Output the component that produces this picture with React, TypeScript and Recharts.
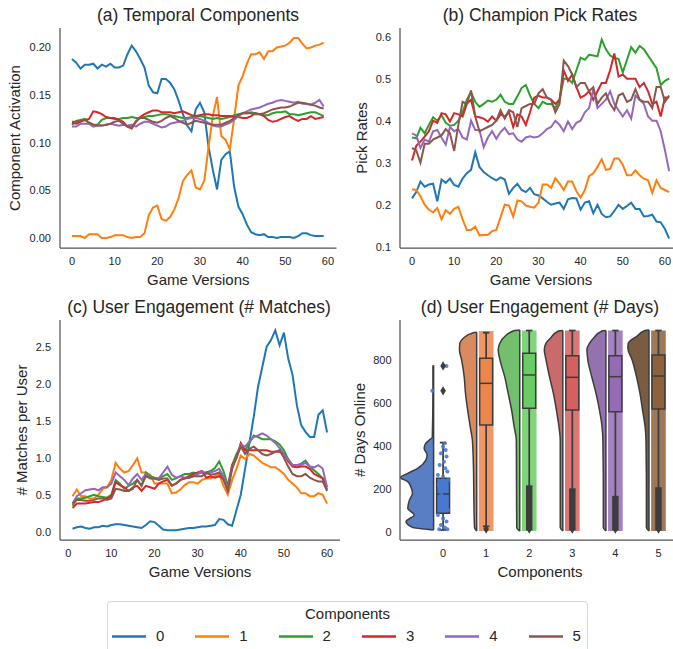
import React from 'react';
import {
  LineChart,
  Line,
  XAxis,
  YAxis,
  Label,
  ComposedChart,
  Area,
  Scatter,
  ReferenceArea,
  ReferenceLine,
} from 'recharts';

// ---- data -------------------------------------------------------------

const components = ['0', '1', '2', '3', '4', '5'];

// (a) temporal components, versions 0..59
const temporal0 = [0.188, 0.184, 0.178, 0.182, 0.182, 0.183, 0.178, 0.182, 0.18, 0.183, 0.179, 0.179, 0.181, 0.193, 0.202, 0.196, 0.188, 0.179, 0.16, 0.153, 0.152, 0.167, 0.167, 0.163, 0.156, 0.144, 0.13, 0.118, 0.112, 0.135, 0.142, 0.132, 0.096, 0.072, 0.051, 0.082, 0.088, 0.091, 0.054, 0.033, 0.025, 0.014, 0.006, 0.004, 0.003, 0.004, 0.001, 0.001, 0.0, 0.001, 0.001, 0.001, 0.0, 0.002, 0.005, 0.005, 0.003, 0.002, 0.002, 0.002];
const temporal1 = [0.002, 0.002, 0.002, 0.0, 0.004, 0.004, 0.004, 0.0, 0.0, 0.001, 0.003, 0.003, 0.003, 0.001, 0.0, 0.001, 0.001, 0.005, 0.024, 0.032, 0.034, 0.02, 0.018, 0.022, 0.03, 0.042, 0.06, 0.066, 0.071, 0.053, 0.051, 0.06, 0.095, 0.128, 0.148, 0.107, 0.103, 0.093, 0.125, 0.16, 0.17, 0.183, 0.193, 0.193, 0.195, 0.188, 0.196, 0.196, 0.2, 0.201, 0.202, 0.205, 0.21, 0.21, 0.204, 0.199, 0.2, 0.202, 0.203, 0.205];
const temporal2 = [0.119, 0.123, 0.124, 0.125, 0.121, 0.119, 0.119, 0.124, 0.126, 0.126, 0.125, 0.125, 0.126, 0.126, 0.127, 0.126, 0.126, 0.127, 0.128, 0.128, 0.129, 0.13, 0.13, 0.129, 0.128, 0.127, 0.126, 0.126, 0.127, 0.127, 0.128, 0.127, 0.126, 0.125, 0.126, 0.125, 0.126, 0.127, 0.129, 0.13, 0.131, 0.131, 0.132, 0.131, 0.13, 0.129, 0.129, 0.131, 0.132, 0.132, 0.133, 0.13, 0.13, 0.129, 0.13, 0.131, 0.132, 0.132, 0.13, 0.128];
const temporal3 = [0.121, 0.12, 0.122, 0.124, 0.125, 0.133, 0.132, 0.13, 0.127, 0.126, 0.126, 0.124, 0.122, 0.117, 0.115, 0.122, 0.127, 0.13, 0.132, 0.134, 0.134, 0.132, 0.132, 0.132, 0.131, 0.132, 0.133, 0.131, 0.129, 0.128, 0.129, 0.13, 0.13, 0.129, 0.129, 0.128, 0.128, 0.128, 0.127, 0.127, 0.126, 0.126, 0.128, 0.131, 0.13, 0.128, 0.124, 0.122, 0.123, 0.125, 0.127, 0.128, 0.125, 0.123, 0.125, 0.125, 0.128, 0.125, 0.126, 0.127];
const temporal4 = [0.117, 0.117, 0.12, 0.12, 0.12, 0.117, 0.118, 0.118, 0.119, 0.12, 0.119, 0.118, 0.119, 0.118, 0.119, 0.117, 0.12, 0.122, 0.122, 0.12, 0.118, 0.116, 0.117, 0.12, 0.121, 0.122, 0.123, 0.125, 0.126, 0.126, 0.125, 0.123, 0.121, 0.118, 0.117, 0.117, 0.119, 0.121, 0.124, 0.128, 0.131, 0.133, 0.135, 0.136, 0.137, 0.139, 0.141, 0.142, 0.144, 0.145, 0.144, 0.143, 0.142, 0.143, 0.141, 0.141, 0.14, 0.142, 0.145, 0.138];
const temporal5 = [0.122, 0.122, 0.123, 0.124, 0.121, 0.119, 0.118, 0.118, 0.119, 0.12, 0.122, 0.123, 0.12, 0.117, 0.116, 0.123, 0.126, 0.126, 0.124, 0.122, 0.121, 0.123, 0.126, 0.128, 0.126, 0.123, 0.121, 0.119, 0.121, 0.123, 0.122, 0.121, 0.12, 0.119, 0.119, 0.119, 0.121, 0.123, 0.126, 0.129, 0.131, 0.131, 0.131, 0.13, 0.13, 0.131, 0.133, 0.135, 0.136, 0.137, 0.137, 0.138, 0.14, 0.142, 0.142, 0.141, 0.14, 0.139, 0.137, 0.136];

// (b) champion pick rates, versions 0..61
const pick0 = [0.215, 0.23, 0.255, 0.243, 0.248, 0.25, 0.208, 0.26, 0.252, 0.262, 0.247, 0.243, 0.262, 0.275, 0.283, 0.325, 0.29, 0.278, 0.27, 0.263, 0.258, 0.265, 0.26, 0.226, 0.24, 0.25, 0.235, 0.23, 0.24, 0.225, 0.222, 0.215, 0.207, 0.2, 0.203, 0.205, 0.19, 0.213, 0.216, 0.215, 0.188, 0.205, 0.208, 0.18, 0.2, 0.178, 0.17, 0.172, 0.185, 0.2, 0.19, 0.197, 0.205, 0.19, 0.19, 0.172, 0.173, 0.176, 0.16, 0.158, 0.142, 0.12];
const pick1 = [0.237, 0.235, 0.22, 0.2, 0.188, 0.182, 0.192, 0.165, 0.187, 0.178, 0.19, 0.195, 0.165, 0.14, 0.14, 0.148, 0.127, 0.128, 0.128, 0.137, 0.14, 0.17, 0.2, 0.198, 0.172, 0.21, 0.208, 0.198, 0.195, 0.193, 0.205, 0.248, 0.248, 0.24, 0.263, 0.25, 0.235, 0.255, 0.255, 0.232, 0.217, 0.235, 0.268, 0.275, 0.29, 0.308, 0.283, 0.285, 0.31, 0.31, 0.295, 0.27, 0.27, 0.282, 0.27, 0.262, 0.258, 0.228, 0.258, 0.24, 0.235, 0.23];
const pick2 = [0.36, 0.358, 0.383, 0.37, 0.39, 0.408, 0.4, 0.413, 0.395, 0.388, 0.39, 0.4, 0.42, 0.45, 0.468, 0.445, 0.433, 0.44, 0.448, 0.445, 0.45, 0.462, 0.445, 0.44, 0.44, 0.458, 0.478, 0.485, 0.46, 0.44, 0.43, 0.445, 0.44, 0.44, 0.43, 0.45, 0.5, 0.5, 0.49, 0.52, 0.55, 0.545, 0.557, 0.555, 0.553, 0.593, 0.57, 0.555, 0.55, 0.547, 0.515, 0.545, 0.575, 0.562, 0.578, 0.57, 0.555, 0.54, 0.525, 0.485, 0.495, 0.5];
const pick3 = [0.305, 0.34, 0.35, 0.362, 0.375, 0.4, 0.395, 0.418, 0.415, 0.398, 0.418, 0.415, 0.41, 0.44, 0.45, 0.41, 0.408, 0.405, 0.398, 0.41, 0.4, 0.415, 0.41, 0.42, 0.385, 0.415, 0.41, 0.39, 0.42, 0.455, 0.46, 0.455, 0.455, 0.45, 0.44, 0.45, 0.52, 0.495, 0.51, 0.48, 0.455, 0.46, 0.47, 0.45, 0.47, 0.49, 0.49, 0.52, 0.56, 0.505, 0.51, 0.5, 0.5, 0.5, 0.48, 0.49, 0.47, 0.44, 0.445, 0.41, 0.455, 0.455];
const pick4 = [0.37, 0.365, 0.335, 0.355, 0.35, 0.375, 0.378, 0.36, 0.343, 0.385, 0.375, 0.38, 0.36, 0.355, 0.4, 0.378, 0.378, 0.337, 0.36, 0.375, 0.357, 0.373, 0.383, 0.368, 0.37, 0.355, 0.35, 0.36, 0.363, 0.36, 0.362, 0.37, 0.38, 0.385, 0.4, 0.39, 0.375, 0.398, 0.38, 0.395, 0.4, 0.42, 0.43, 0.475, 0.43, 0.44, 0.45, 0.47, 0.44, 0.425, 0.41, 0.425, 0.405, 0.46, 0.45, 0.44, 0.41, 0.4, 0.4, 0.375, 0.33, 0.28];
const pick5 = [0.335, 0.33, 0.3, 0.345, 0.345, 0.355, 0.36, 0.365, 0.38, 0.37, 0.328, 0.39, 0.445, 0.44, 0.472, 0.41, 0.375, 0.38, 0.385, 0.39, 0.4, 0.425, 0.405, 0.425, 0.42, 0.385, 0.43, 0.435, 0.44, 0.44, 0.465, 0.475, 0.455, 0.45, 0.42, 0.44, 0.543, 0.53, 0.51, 0.48, 0.49, 0.49, 0.47, 0.48, 0.44, 0.455, 0.465, 0.44, 0.425, 0.46, 0.465, 0.445, 0.45, 0.475, 0.45, 0.445, 0.445, 0.43, 0.48, 0.48, 0.445, 0.46];

// (c) matches per user, versions 1..60
const matches0 = [0.04, 0.06, 0.07, 0.05, 0.04, 0.06, 0.06, 0.08, 0.07, 0.09, 0.1, 0.1, 0.09, 0.08, 0.07, 0.06, 0.05, 0.09, 0.14, 0.13, 0.08, 0.03, 0.02, 0.02, 0.02, 0.03, 0.04, 0.05, 0.05, 0.06, 0.07, 0.07, 0.08, 0.09, 0.17, 0.16, 0.1, 0.08, 0.29, 0.5, 0.85, 1.2, 1.55, 1.96, 2.23, 2.5, 2.59, 2.72, 2.52, 2.69, 2.34, 2.12, 1.71, 1.44, 1.35, 1.28, 1.28, 1.58, 1.64, 1.34];
const matches1 = [0.48, 0.57, 0.48, 0.48, 0.45, 0.45, 0.5, 0.58, 0.6, 0.7, 0.93, 0.85, 0.8, 0.82, 0.9, 0.99, 0.8, 0.8, 0.77, 0.65, 0.65, 0.65, 0.65, 0.52, 0.53, 0.57, 0.63, 0.67, 0.67, 0.65, 0.7, 0.72, 0.72, 0.75, 0.78, 0.62, 0.5, 0.7, 0.85, 1.03, 0.98, 1.05, 1.03, 0.98, 0.93, 0.9, 0.87, 0.87, 0.83, 0.78, 0.7, 0.65, 0.6, 0.52, 0.52, 0.48, 0.48, 0.52, 0.5, 0.38];
const matches2 = [0.35, 0.45, 0.45, 0.46, 0.48, 0.5, 0.48, 0.47, 0.46, 0.5, 0.7, 0.65, 0.58, 0.62, 0.65, 0.7, 0.62, 0.8, 0.75, 0.73, 0.72, 0.75, 0.78, 0.7, 0.72, 0.75, 0.78, 0.78, 0.8, 0.78, 0.8, 0.8, 0.82, 0.86, 0.95, 0.82, 0.62, 0.9, 1.05, 1.15, 1.1, 1.2, 1.3, 1.28, 1.25, 1.25, 1.25, 1.22, 1.18, 1.1, 0.98, 0.9, 0.9, 0.92, 0.96, 0.88, 0.83, 0.78, 0.72, 0.6];
const matches3 = [0.32, 0.38, 0.38, 0.38, 0.39, 0.4, 0.4, 0.42, 0.45, 0.48, 0.67, 0.63, 0.6, 0.55, 0.6, 0.62, 0.55, 0.62, 0.6, 0.58, 0.65, 0.68, 0.7, 0.63, 0.65, 0.7, 0.72, 0.75, 0.78, 0.8, 0.82, 0.73, 0.75, 0.73, 0.75, 0.72, 0.58, 0.9, 1.0, 1.2, 1.1, 1.1, 1.1, 1.1, 1.1, 1.1, 1.08, 1.08, 1.08, 1.05, 0.95, 0.88, 0.87, 0.88, 0.88, 0.85, 0.78, 0.75, 0.72, 0.57];
const matches4 = [0.38, 0.48, 0.52, 0.56, 0.57, 0.58, 0.56, 0.6, 0.6, 0.65, 0.8, 0.75, 0.7, 0.63, 0.72, 0.78, 0.7, 0.78, 0.73, 0.72, 0.72, 0.8, 0.88, 0.77, 0.73, 0.75, 0.73, 0.73, 0.75, 0.78, 0.82, 0.78, 0.8, 0.82, 0.85, 0.75, 0.58, 0.87, 1.0, 1.18, 1.15, 1.22, 1.28, 1.3, 1.33, 1.3, 1.25, 1.2, 1.13, 1.05, 0.97, 0.9, 0.9, 0.9, 0.93, 0.88, 0.87, 0.9, 0.85, 0.6];
const matches5 = [0.38, 0.43, 0.43, 0.42, 0.42, 0.43, 0.45, 0.45, 0.43, 0.45, 0.58, 0.57, 0.55, 0.55, 0.58, 0.7, 0.62, 0.75, 0.72, 0.72, 0.7, 0.72, 0.72, 0.62, 0.65, 0.7, 0.72, 0.73, 0.75, 0.75, 0.75, 0.8, 0.77, 0.78, 0.8, 0.7, 0.55, 0.85, 1.0, 1.15, 1.05, 1.12, 1.15, 1.1, 1.05, 1.03, 1.05, 1.08, 1.1, 1.0, 0.88, 0.78, 0.75, 0.75, 0.78, 0.73, 0.7, 0.68, 0.68, 0.55];

// (d) days online: box plot stats per component
const boxQ1 = [86, 497, 575, 567, 559, 572];
const boxMedian = [176, 691, 730, 719, 722, 725];
const boxQ3 = [249, 808, 831, 819, 820, 823];
const whiskerLow = [8, 25, 212, 198, 163, 203];
const whiskerHigh = [415, 927, 937, 937, 937, 937];
const stripTop = [0, 935, 937, 937, 937, 937];
const outlierColumnTop = [0, 0, 212, 198, 163, 203];
const outliers = [
  { x: 0, y: 656 }, { x: 0, y: 772 },
  { x: 1, y: 12 }, { x: 2, y: 12 }, { x: 3, y: 12 }, { x: 4, y: 12 }, { x: 5, y: 12 },
];
// jittered points of component 0: [offset, days]
const strip0 = [
  [0.04, 412], [0.0, 396], [0.06, 381], [-0.05, 365], [0.08, 350], [0.02, 326], [-0.08, 311],
  [0.05, 295], [0.1, 280], [-0.12, 264], [0.0, 256], [0.12, 241], [-0.1, 218], [0.04, 202],
  [-0.04, 179], [0.09, 155], [-0.08, 132], [0.02, 117], [0.12, 101], [-0.12, 78], [0.0, 62],
  [0.08, 47], [-0.05, 31], [0.04, 20], [-0.09, 11], [0.1, 11], [0.08, 772], [-0.25, 656],
];
// half-violin outlines: [days, density width]
const violin0 = [[8, 0], [20, 0.49], [47, 0.64], [78, 0.45], [109, 0.6], [148, 0.56], [179, 0.49], [210, 0.53], [233, 0.6], [253, 0.77], [272, 0.6], [295, 0.37], [334, 0.18], [357, 0.15], [389, 0.22], [412, 0.18], [427, 0.1], [440, 0.03], [660, 0.015], [772, 0.015], [775, 0]];
const violin1 = [[3, 0], [20, 0.05], [150, 0.065], [300, 0.075], [427, 0.1], [489, 0.15], [567, 0.21], [645, 0.26], [722, 0.29], [800, 0.35], [847, 0.4], [878, 0.39], [901, 0.31], [927, 0.077], [929, 0]];
const violin2 = [[3, 0], [20, 0.07], [200, 0.075], [427, 0.08], [489, 0.13], [567, 0.19], [645, 0.27], [722, 0.35], [800, 0.46], [847, 0.5], [878, 0.46], [909, 0.35], [937, 0.116], [939, 0]];
const violin3 = [[3, 0], [20, 0.06], [200, 0.06], [427, 0.06], [489, 0.09], [567, 0.15], [645, 0.22], [722, 0.31], [800, 0.39], [847, 0.43], [878, 0.39], [901, 0.29], [935, 0.1], [937, 0]];
const violin4 = [[3, 0], [20, 0.06], [200, 0.06], [427, 0.07], [489, 0.09], [567, 0.15], [645, 0.23], [722, 0.33], [800, 0.42], [847, 0.44], [878, 0.38], [901, 0.29], [935, 0.09], [937, 0]];
const violin5 = [[3, 0], [20, 0.06], [200, 0.06], [427, 0.07], [489, 0.09], [567, 0.15], [645, 0.21], [722, 0.29], [800, 0.39], [855, 0.49], [878, 0.48], [909, 0.29], [937, 0.09], [939, 0]];

const versionTicks = [0, 10, 20, 30, 40, 50, 60];

// ---- styles -----------------------------------------------------------

const LINE_COLORS = ['#1f77b4', '#ff7f0e', '#2ca02c', '#d62728', '#9467bd', '#8c564b'];
const BOX_COLORS = ['#4878d0', '#ee854a', '#6acc64', '#d65f5f', '#956cb4', '#8c613c'];
const VIOLIN_COLORS = ['#5a7ec4', '#d98b5f', '#72bf6d', '#c96b6b', '#9472ad', '#7a5c42'];
const INK = '#262626';
const EDGE = '#3d3d3d';
const FONT = '"Liberation Sans", Arial, Helvetica, sans-serif';

const tickStyle = { fontSize: 11, fill: INK, fontFamily: FONT };
const axisStyle = { stroke: '#555', strokeWidth: 1.25 };
const labelStyle = { fontSize: 15, fill: INK, fontFamily: FONT };
const VIOLIN_SHIFT = 0.22;
const BOX_HALF = 0.15;
const STRIP_HALF = 0.17;
const CAP_HALF = 0.075;

type Margin = { top: number; right: number; bottom: number; left: number };

interface LinePanelProps {
  series: number[][];
  start: number;
  left: number;
  top: number;
  width: number;
  height: number;
  margin: Margin;
  xAxisHeight: number;
  xDomain: [number, number];
  yDomain: [number, number];
  yTicks: number[];
  yDigits: number;
  yLabel: string;
  yLabelOffset: number;
  xLabelOffset: number;
}

const LinePanel = (p: LinePanelProps) => {
  const rows = p.series[0].map((_, i) => {
    const row: Record<string, number> = { v: p.start + i };
    p.series.forEach((s, k) => {
      row['c' + k] = s[i];
    });
    return row;
  });
  return (
    <div style={{ position: 'absolute', left: p.left, top: p.top }}>
      <LineChart width={p.width} height={p.height} data={rows} margin={p.margin}>
        <XAxis
          dataKey="v"
          type="number"
          domain={p.xDomain}
          allowDataOverflow
          ticks={versionTicks}
          height={p.xAxisHeight}
          tickSize={0}
          tickMargin={9.5}
          tick={tickStyle}
          axisLine={axisStyle}
          tickLine={false}
        >
          <Label value="Game Versions" position="insideBottom" offset={p.xLabelOffset} style={labelStyle} />
        </XAxis>
        <YAxis
          type="number"
          domain={p.yDomain}
          allowDataOverflow
          ticks={p.yTicks}
          width={60}
          tickSize={0}
          tickMargin={9}
          tick={tickStyle}
          axisLine={axisStyle}
          tickLine={false}
          tickFormatter={(v: number) => v.toFixed(p.yDigits)}
        >
          <Label
            value={p.yLabel}
            angle={-90}
            position="insideLeft"
            offset={p.yLabelOffset}
            style={{ ...labelStyle, textAnchor: 'middle' }}
          />
        </YAxis>
        {p.series.map((_, k) => (
          <Line
            key={k}
            dataKey={'c' + k}
            stroke={LINE_COLORS[k]}
            strokeWidth={2}
            dot={false}
            activeDot={false}
            isAnimationActive={false}
          />
        ))}
      </LineChart>
    </div>
  );
};

const Title = ({ text, cx, cy }: { text: string; cx: number; cy: number }) => (
  <div
    style={{
      position: 'absolute',
      left: cx - 200,
      top: cy - 11,
      width: 400,
      lineHeight: '22px',
      textAlign: 'center',
      fontSize: 17.5,
      color: INK,
      fontFamily: FONT,
      whiteSpace: 'nowrap',
    }}
  >
    {text}
  </div>
);

const DAYS_DOMAIN: [number, number] = [-38.7, 986];
const CAT_DOMAIN: [number, number] = [-1, 5.5];

const ViolinLayer = () => {
  const violins = [violin0, violin1, violin2, violin3, violin4, violin5];
  return (
    <div style={{ position: 'absolute', left: 340, top: 290 }}>
      <ComposedChart layout="vertical" width={340} height={300} margin={{ top: 30, right: 0, bottom: 50, left: 60 }}>
        <XAxis type="number" domain={CAT_DOMAIN} allowDataOverflow hide />
        <YAxis type="number" dataKey="days" domain={DAYS_DOMAIN} allowDataOverflow reversed hide />
        {violins.map((v, k) => (
          <Area
            key={k}
            data={v.map(([days, w]) => ({ days, range: [k - VIOLIN_SHIFT - w, k - VIOLIN_SHIFT] }))}
            dataKey="range"
            type="monotone"
            fill={VIOLIN_COLORS[k]}
            fillOpacity={1}
            stroke={EDGE}
            strokeWidth={1.5}
            dot={false}
            activeDot={false}
            isAnimationActive={false}
          />
        ))}
      </ComposedChart>
    </div>
  );
};

const dotShape = (props: any) => <circle cx={props.cx} cy={props.cy} r={2} fill={BOX_COLORS[0]} fillOpacity={0.9} />;
const diamondShape = (props: any) => (
  <polygon
    points={`${props.cx},${props.cy - 4.6} ${props.cx + 2.8},${props.cy} ${props.cx},${props.cy + 4.6} ${props.cx - 2.8},${props.cy}`}
    fill={EDGE}
  />
);

const BoxLayer = () => (
  <div style={{ position: 'absolute', left: 340, top: 290 }}>
    <ComposedChart width={340} height={300} margin={{ top: 30, right: 0, bottom: 0, left: 0 }}>
      <XAxis
        type="number"
        dataKey="x"
        domain={CAT_DOMAIN}
        allowDataOverflow
        ticks={[0, 1, 2, 3, 4, 5]}
        tickFormatter={(v: number) => components[v]}
        height={50}
        tickSize={0}
        tickMargin={9.5}
        tick={tickStyle}
        axisLine={axisStyle}
        tickLine={false}
      >
        <Label value="Components" position="insideBottom" offset={13.5} style={labelStyle} />
      </XAxis>
      <YAxis
        type="number"
        dataKey="y"
        domain={DAYS_DOMAIN}
        allowDataOverflow
        ticks={[0, 200, 400, 600, 800]}
        width={60}
        tickSize={0}
        tickMargin={8.5}
        tick={tickStyle}
        axisLine={axisStyle}
        tickLine={false}
      >
        <Label
          value="# Days Online"
          angle={-90}
          position="insideLeft"
          offset={20}
          style={{ ...labelStyle, textAnchor: 'middle' }}
        />
      </YAxis>
      {components.map((_, k) =>
        stripTop[k] > 0 ? (
          <ReferenceArea
            key={'s' + k}
            x1={k - STRIP_HALF}
            x2={k + STRIP_HALF}
            y1={3}
            y2={stripTop[k]}
            fill={BOX_COLORS[k]}
            fillOpacity={0.85}
            stroke="none"
          />
        ) : null,
      )}
      {components.map((_, k) => (
        <ReferenceLine key={'wu' + k} segment={[{ x: k, y: boxQ3[k] }, { x: k, y: whiskerHigh[k] }]} stroke={EDGE} strokeWidth={1.75} />
      ))}
      {components.map((_, k) => (
        <ReferenceLine key={'wl' + k} segment={[{ x: k, y: whiskerLow[k] }, { x: k, y: boxQ1[k] }]} stroke={EDGE} strokeWidth={1.75} />
      ))}
      {components.map((_, k) => (
        <ReferenceLine key={'cu' + k} segment={[{ x: k - CAP_HALF, y: whiskerHigh[k] }, { x: k + CAP_HALF, y: whiskerHigh[k] }]} stroke={EDGE} strokeWidth={1.75} />
      ))}
      {components.map((_, k) => (
        <ReferenceLine key={'cl' + k} segment={[{ x: k - CAP_HALF, y: whiskerLow[k] }, { x: k + CAP_HALF, y: whiskerLow[k] }]} stroke={EDGE} strokeWidth={1.75} />
      ))}
      {components.map((_, k) => (
        <ReferenceArea
          key={'b' + k}
          x1={k - BOX_HALF}
          x2={k + BOX_HALF}
          y1={boxQ1[k]}
          y2={boxQ3[k]}
          fill={BOX_COLORS[k]}
          fillOpacity={1}
          stroke={EDGE}
          strokeWidth={1.5}
        />
      ))}
      {components.map((_, k) => (
        <ReferenceLine key={'m' + k} segment={[{ x: k - BOX_HALF, y: boxMedian[k] }, { x: k + BOX_HALF, y: boxMedian[k] }]} stroke={EDGE} strokeWidth={1.5} />
      ))}
      {components.map((_, k) =>
        outlierColumnTop[k] > 0 ? (
          <ReferenceArea
            key={'o' + k}
            x1={k - CAP_HALF}
            x2={k + CAP_HALF}
            y1={6}
            y2={outlierColumnTop[k]}
            fill={EDGE}
            fillOpacity={1}
            stroke="none"
          />
        ) : null,
      )}
      <Scatter data={strip0.map(([dx, d]) => ({ x: dx, y: d }))} dataKey="y" shape={dotShape} isAnimationActive={false} />
      <Scatter data={outliers} dataKey="y" shape={diamondShape} isAnimationActive={false} />
    </ComposedChart>
  </div>
);

const Legend = () => (
  <div
    style={{
      position: 'absolute',
      left: 107,
      top: 601,
      width: 479,
      height: 60,
      border: '1px solid #d6d6d6',
      borderRadius: 4,
      fontFamily: FONT,
      color: INK,
      background: '#fff',
    }}
  >
    <div style={{ position: 'absolute', left: 0, top: 3, width: '100%', textAlign: 'center', fontSize: 15, lineHeight: '18px' }}>
      Components
    </div>
    {components.map((c, k) => (
      <div key={c} style={{ position: 'absolute', left: 4 + k * 83.3, top: 25, height: 18, width: 80 }}>
        <svg width={34} height={18} style={{ position: 'absolute', left: 0, top: 0 }}>
          <line x1={0.5} y1={9.5} x2={33.5} y2={9.5} stroke={LINE_COLORS[k]} strokeWidth={2.5} strokeLinecap="round" />
        </svg>
        <span style={{ position: 'absolute', left: 44, top: 0, fontSize: 15, lineHeight: '18px' }}>{c}</span>
      </div>
    ))}
  </div>
);

export default function App() {
  return (
    <div
      style={{
        position: 'fixed',
        left: 0,
        top: 0,
        width: 673,
        height: 649,
        overflow: 'hidden',
        background: '#fff',
        fontFamily: FONT,
      }}
    >
      <LinePanel
        series={[temporal0, temporal1, temporal2, temporal3, temporal4, temporal5]}
        start={0}
        left={0}
        top={0}
        width={340}
        height={290}
        margin={{ top: 28, right: 3.5, bottom: 0, left: 0 }}
        xAxisHeight={42}
        xDomain={[-2.81, 62.0]}
        yDomain={[-0.0105, 0.2205]}
        yTicks={[0, 0.05, 0.1, 0.15, 0.2]}
        yDigits={2}
        yLabel="Component Activation"
        yLabelOffset={15}
        xLabelOffset={5}
      />
      <LinePanel
        series={[pick0, pick1, pick2, pick3, pick4, pick5]}
        start={0}
        left={340}
        top={0}
        width={342}
        height={290}
        margin={{ top: 28, right: 0, bottom: 0, left: 0 }}
        xAxisHeight={42}
        xDomain={[-2.85, 64.05]}
        yDomain={[0.0969, 0.6207]}
        yTicks={[0.1, 0.2, 0.3, 0.4, 0.5, 0.6]}
        yDigits={1}
        yLabel="Pick Rates"
        yLabelOffset={21.7}
        xLabelOffset={5}
      />
      <LinePanel
        series={[matches0, matches1, matches2, matches3, matches4, matches5]}
        start={1}
        left={0}
        top={290}
        width={340}
        height={300}
        margin={{ top: 30, right: 0, bottom: 0, left: 0 }}
        xAxisHeight={50}
        xDomain={[-1.9, 63.0]}
        yDomain={[-0.112, 2.861]}
        yTicks={[0, 0.5, 1, 1.5, 2, 2.5]}
        yDigits={1}
        yLabel="# Matches per User"
        yLabelOffset={21.7}
        xLabelOffset={13.5}
      />
      <ViolinLayer />
      <BoxLayer />
      <Title text="(a) Temporal Components" cx={198} cy={15} />
      <Title text="(b) Champion Pick Rates" cx={540} cy={15} />
      <Title text="(c) User Engagement (# Matches)" cx={199} cy={306.7} />
      <Title text="(d) User Engagement (# Days)" cx={540} cy={306.7} />
      <Legend />
    </div>
  );
}
